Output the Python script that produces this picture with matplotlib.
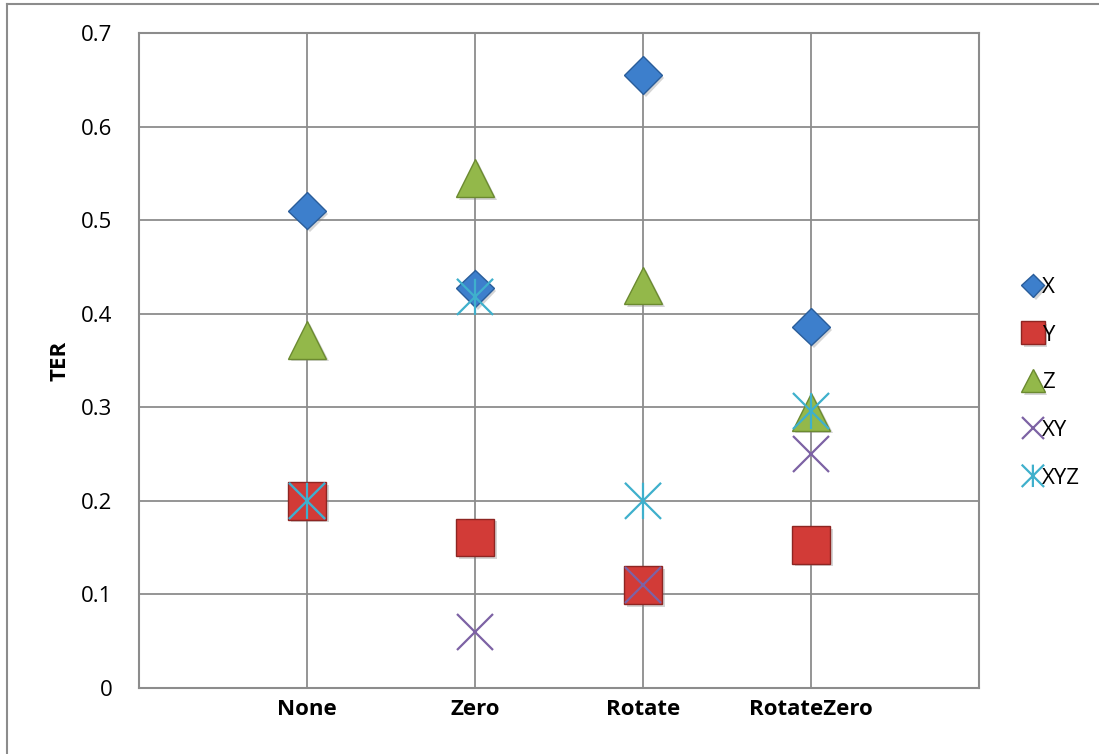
import numpy as np
import matplotlib.pyplot as plt
import matplotlib.patheffects as pe
from matplotlib.path import Path
from matplotlib.lines import Line2D

plt.rcParams['font.family'] = ['Open Sans', 'DejaVu Sans']

#------------ data ------------#
categories = ['None', 'Zero', 'Rotate', 'RotateZero']
ter_x = [0.51, 0.427, 0.655, 0.386]
ter_y = [0.2, 0.161, 0.11, 0.153]
ter_z = [0.372, 0.545, 0.430, 0.295]
ter_xy = [0.2, 0.06, 0.11, 0.25]
ter_xyz = [0.2, 0.418, 0.2, 0.296]
yticks = [0, 0.1, 0.2, 0.3, 0.4, 0.5, 0.6, 0.7]

# asterisk: vertical bar plus two diagonals
star_path = Path(
    [(0, -0.5), (0, 0.5), (-0.5, -0.5), (0.5, 0.5), (-0.5, 0.5), (0.5, -0.5)],
    [Path.MOVETO, Path.LINETO] * 3)

series = [
    ('X', ter_x, dict(marker='D', ms=19, mfc='#3d7fcc', mec='#2a5d9a', mew=1.0)),
    ('Y', ter_y, dict(marker='s', ms=27, mfc='#d23b37', mec='#8e2522', mew=1.0)),
    ('Z', ter_z, dict(marker='^', ms=27, mfc='#93b84a', mec='#6b8a30', mew=1.0)),
    ('XY', ter_xy, dict(marker='x', ms=26, mec='#7d62a4', mew=1.6)),
    ('XYZ', ter_xyz, dict(marker=star_path, ms=26, mec='#3fb0cc', mew=1.6)),
]

fig = plt.figure(figsize=(10.99, 7.54), dpi=100)
ax = fig.add_axes([139 / 1099, 66 / 754, 840 / 1099, 655 / 754])

xpos = np.arange(1, len(categories) + 1)
shadow = [pe.SimplePatchShadow(offset=(2, -2), shadow_rgbFace='#888888', alpha=0.35), pe.Normal()]
for name, vals, style in series:
    ax.plot(xpos, vals, linestyle='none', label=name, zorder=3,
            path_effects=shadow, **style)

ax.set_xlim(0, 5)
ax.set_ylim(0, 0.7)
ax.set_xticks(xpos)
ax.set_xticklabels(categories, fontsize=16, fontweight='bold')
ax.set_yticks(yticks)
ax.set_yticklabels(['0'] + ['%.1f' % v for v in yticks[1:]], fontsize=16)
ax.tick_params(axis='both', length=0)
ax.tick_params(axis='x', pad=8)
ax.tick_params(axis='y', pad=19)

ax.grid(True, axis='both', color='#8c8c8c', linewidth=1.3)
ax.set_axisbelow(True)
for s in ax.spines.values():
    s.set_color('#8c8c8c')
    s.set_linewidth(1.5)

ax.set_ylabel('TER', fontsize=16, fontweight='bold', labelpad=8)

leg = ax.legend(loc='center left', bbox_to_anchor=(1.043, 0.466), frameon=False,
                fontsize=16, markerscale=0.62, handlelength=0.8,
                handletextpad=0.0, labelspacing=1.2, borderaxespad=0)

# chart border (cropped on right and bottom)
fig.add_artist(Line2D([7 / 1099, 7 / 1099], [0, 1 - 4 / 754], color='#8c8c8c', lw=1.5))
fig.add_artist(Line2D([7 / 1099, 1], [1 - 4 / 754, 1 - 4 / 754], color='#8c8c8c', lw=1.5))

fig.savefig('out.png', dpi=100)
